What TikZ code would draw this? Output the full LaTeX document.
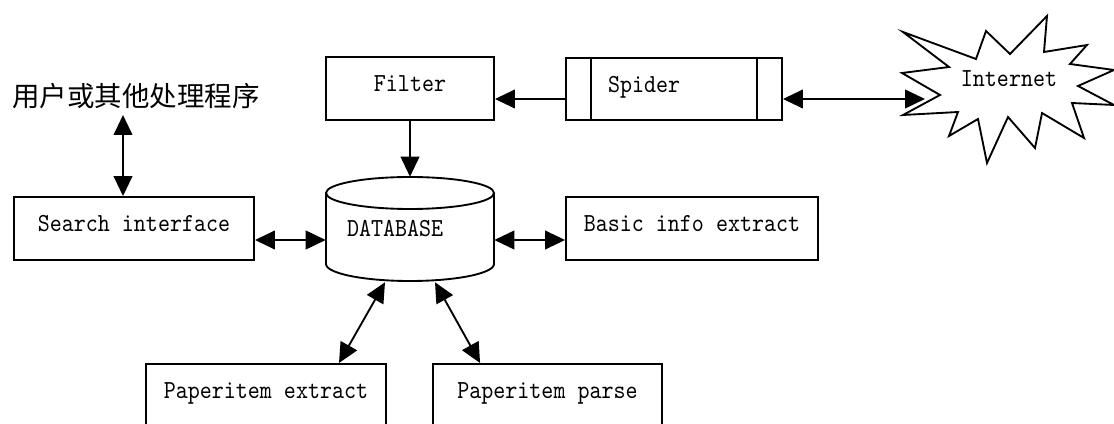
\documentclass[tikz,border=0pt]{standalone}
\usepackage{fontspec}
\newfontfamily\cjkfont{Noto Sans CJK SC}
\newfontfamily\labfont{lmmono10-regular.otf}[FakeStretch=0.88]
\usetikzlibrary{arrows.meta,calc}
\tikzset{
  lbl/.style={font=\fontsize{19.5}{22}\selectfont\labfont},
  boxnode/.style={lbl, draw, line width=1.4pt, inner sep=0pt, text height=12pt, text depth=6.75pt},
  conn/.style={line width=1.4pt, -{Triangle[length=15pt,width=14pt]}},
  dconn/.style={line width=1.4pt, {Triangle[length=15pt,width=14pt]}-{Triangle[length=15pt,width=14pt]}},
  thick line/.style={line width=1.4pt}
}
\begin{document}
\begin{tikzpicture}[x=0.75pt,y=-0.75pt]
\useasboundingbox (0,0) rectangle (1114,424);
\fill[white] (0,0) rectangle (1114,424);

% boxes
\node[boxnode, minimum width=126pt, minimum height=47.25pt] (filter) at (410,88.5) {Filter};
\node[boxnode, minimum height=46.5pt, text width=162pt, align=left] (spider) at (674,89) {\hspace*{31.5pt}Spider};
\draw[thick line] ($(spider.north west)+(26,0)$) -- ($(spider.south west)+(26,0)$);
\draw[thick line] ($(spider.north east)+(-26,0)$) -- ($(spider.south east)+(-26,0)$);
\node[boxnode, minimum width=180pt, minimum height=47.25pt] (search) at (134,228.5) {Search interface};
\node[boxnode, minimum width=189pt, minimum height=47.25pt] (basic) at (692,228.5) {Basic info extract};
\node[boxnode, anchor=north, minimum width=180pt, text height=26pt, text depth=40pt] (pext) at (266,363) {Paperitem extract};
\node[boxnode, anchor=north, minimum width=171.75pt, text height=26pt, text depth=40pt] (ppar) at (547.5,363) {Paperitem parse};

% database cylinder
\node[lbl, inner sep=0pt, minimum height=78pt, text width=126pt, align=left, text height=12pt, text depth=0pt] (db) at (410,229) {\hspace*{15.75pt}DATABASE};
\draw[thick line] (410,193) ellipse [x radius=63pt, y radius=12pt];
\draw[thick line] (326,193) -- (326,264) arc[start angle=180, end angle=360, x radius=63pt, y radius=12.75pt] -- (494,193);

% user text
\node[font=\fontsize{20.6}{24}\selectfont\cjkfont, inner sep=0pt] (user) at (136,96) {用户或其他处理程序};

% internet starburst
\draw[thick line, line join=miter] (903,32) -- (976,59) -- (986,31) -- (1010,54) -- (1047,16) -- (1044,52) -- (1087,45) -- (1070,64) -- (1114,70) -- (1078,86) -- (1114,105) -- (1072,103) -- (1084,138) -- (1042,113) -- (1035,148) -- (1008,117) -- (987,163) -- (978,119) -- (949,136) -- (958,112) -- (903,115) -- (940,95) -- (902,73) -- (949,67) -- cycle;
\node[lbl, inner sep=0pt] (inet) at (1009,79) {Internet};
\coordinate (inetin) at (925,99);

% connectors
\coordinate (y99) at (0,99);
\coordinate (y240) at (0,240);
\draw[conn] (spider.west |- y99) -- (filter.east |- y99);
\draw[dconn] (spider.east |- y99) -- (inetin);
\draw[conn] (filter.south) -- (db.north);
\draw[dconn] (search.east |- y240) -- (db.west |- y240);
\draw[dconn] (db.east |- y240) -- (basic.west |- y240);
\draw[dconn] ($(db.south)+(-25,1)$) -- ($(pext.north)+(73,0)$);
\draw[dconn] ($(db.south)+(25,1)$) -- ($(ppar.north west)+(48,0)$);
\coordinate (ux) at (123,115);
\draw[dconn] (ux) -- (ux |- search.north);
\end{tikzpicture}
\end{document}
